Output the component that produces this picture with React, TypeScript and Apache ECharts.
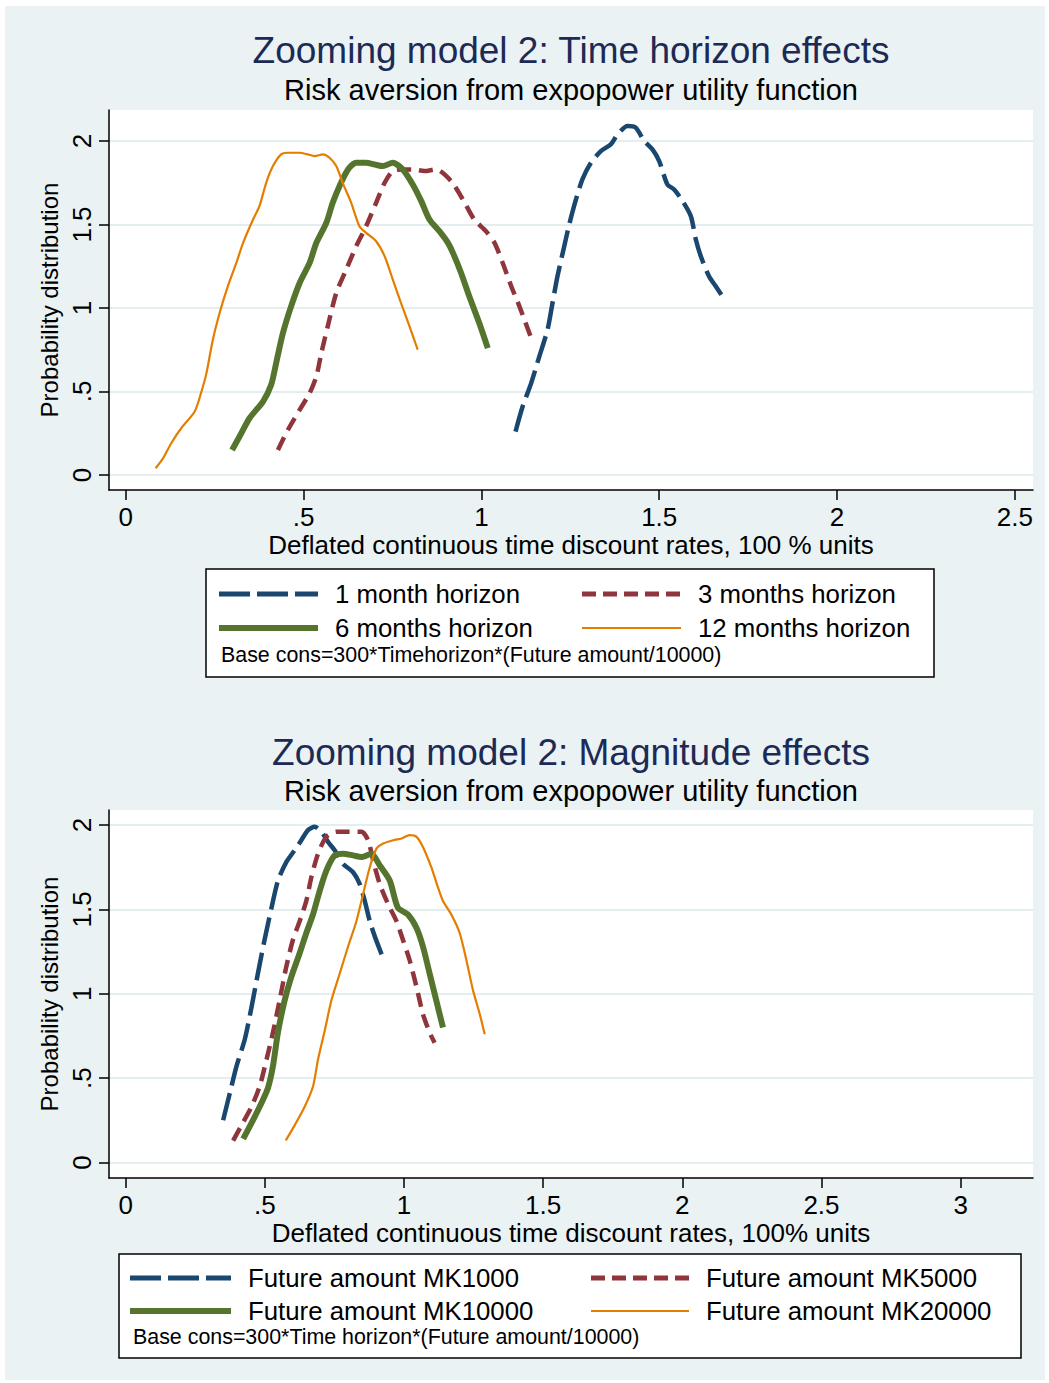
import React, { useEffect, useRef } from "react";
import * as echarts from "echarts";

const FONT = "'Liberation Sans', Arial, Helvetica, sans-serif";

const topTitle = "Zooming model 2: Time horizon effects";
const bottomTitle = "Zooming model 2: Magnitude effects";
const subTitle = "Risk aversion from expopower utility function";
const yTitle = "Probability distribution";
const topXTitle = "Deflated continuous time discount rates, 100 % units";
const bottomXTitle = "Deflated continuous time discount rates, 100% units";
const topXTicks = [0, 0.5, 1, 1.5, 2, 2.5];
const bottomXTicks = [0, 0.5, 1, 1.5, 2, 2.5, 3];
const yTicks = [0, 0.5, 1, 1.5, 2];
const topNames = ["1 month horizon", "3 months horizon", "6 months horizon", "12 months horizon"];
const bottomNames = ["Future amount MK1000", "Future amount MK5000", "Future amount MK10000", "Future amount MK20000"];
const topNote = "Base cons=300*Timehorizon*(Future amount/10000)";
const bottomNote = "Base cons=300*Time horizon*(Future amount/10000)";

// Top panel: time horizon effects
const m1X = [1.096, 1.116, 1.14, 1.163, 1.186, 1.2, 1.214, 1.233, 1.247, 1.266, 1.284, 1.308, 1.336, 1.364, 1.383, 1.411, 1.434, 1.458, 1.481, 1.5, 1.523, 1.542, 1.566, 1.589, 1.603, 1.617, 1.64, 1.659, 1.678];
const m1Y = [0.26, 0.41, 0.55, 0.71, 0.87, 1.03, 1.19, 1.37, 1.5, 1.65, 1.77, 1.87, 1.94, 1.98, 2.04, 2.09, 2.08, 2.0, 1.95, 1.88, 1.74, 1.71, 1.64, 1.55, 1.41, 1.31, 1.19, 1.13, 1.07];
const m3X = [0.428, 0.456, 0.489, 0.517, 0.536, 0.55, 0.568, 0.592, 0.62, 0.648, 0.676, 0.704, 0.728, 0.751, 0.78, 0.807, 0.84, 0.872, 0.915, 0.948, 0.98, 1.013, 1.037, 1.06, 1.084, 1.107, 1.14];
const m3Y = [0.15, 0.27, 0.39, 0.49, 0.59, 0.73, 0.89, 1.09, 1.23, 1.37, 1.49, 1.63, 1.75, 1.82, 1.83, 1.83, 1.82, 1.83, 1.76, 1.65, 1.53, 1.46, 1.39, 1.27, 1.13, 1.01, 0.82];
const m6X = [0.299, 0.32, 0.348, 0.386, 0.409, 0.423, 0.442, 0.465, 0.489, 0.517, 0.536, 0.564, 0.582, 0.601, 0.625, 0.648, 0.676, 0.699, 0.723, 0.751, 0.779, 0.807, 0.831, 0.854, 0.882, 0.906, 0.92, 0.943, 0.966, 0.994, 1.018];
const m6Y = [0.15, 0.23, 0.34, 0.44, 0.54, 0.67, 0.85, 1.01, 1.15, 1.27, 1.39, 1.51, 1.63, 1.73, 1.83, 1.87, 1.87, 1.86, 1.85, 1.87, 1.83, 1.74, 1.64, 1.53, 1.46, 1.39, 1.33, 1.21, 1.07, 0.91, 0.76];
const m12X = [0.084, 0.105, 0.128, 0.156, 0.194, 0.213, 0.227, 0.245, 0.264, 0.287, 0.311, 0.33, 0.358, 0.376, 0.395, 0.414, 0.437, 0.456, 0.489, 0.512, 0.531, 0.554, 0.573, 0.592, 0.61, 0.634, 0.657, 0.676, 0.704, 0.728, 0.751, 0.774, 0.798, 0.821];
const m12Y = [0.04, 0.1, 0.19, 0.28, 0.38, 0.5, 0.61, 0.81, 0.97, 1.13, 1.27, 1.39, 1.53, 1.61, 1.75, 1.85, 1.92, 1.93, 1.93, 1.92, 1.91, 1.92, 1.9, 1.85, 1.75, 1.63, 1.49, 1.45, 1.4, 1.31, 1.17, 1.03, 0.89, 0.75];

// Bottom panel: magnitude effects
const k1X = [0.35, 0.374, 0.398, 0.428, 0.452, 0.475, 0.499, 0.524, 0.547, 0.577, 0.607, 0.631, 0.655, 0.679, 0.703, 0.727, 0.751, 0.781, 0.817, 0.841, 0.859, 0.877, 0.895, 0.925];
const k1Y = [0.25, 0.41, 0.57, 0.73, 0.92, 1.12, 1.32, 1.51, 1.67, 1.78, 1.85, 1.91, 1.97, 1.99, 1.96, 1.9, 1.85, 1.77, 1.72, 1.65, 1.55, 1.43, 1.34, 1.21];
const k5X = [0.386, 0.416, 0.452, 0.481, 0.506, 0.529, 0.553, 0.577, 0.601, 0.625, 0.649, 0.667, 0.691, 0.721, 0.757, 0.805, 0.847, 0.871, 0.889, 0.913, 0.943, 0.973, 0.996, 1.02, 1.045, 1.068, 1.092, 1.11];
const k5Y = [0.13, 0.22, 0.33, 0.45, 0.61, 0.77, 0.96, 1.16, 1.32, 1.43, 1.55, 1.69, 1.83, 1.93, 1.96, 1.96, 1.96, 1.91, 1.79, 1.65, 1.53, 1.43, 1.32, 1.2, 1.04, 0.88, 0.77, 0.71];
const k10X = [0.422, 0.457, 0.49, 0.511, 0.529, 0.547, 0.571, 0.595, 0.625, 0.649, 0.673, 0.697, 0.721, 0.751, 0.781, 0.817, 0.847, 0.883, 0.913, 0.949, 0.978, 1.014, 1.045, 1.068, 1.092, 1.116, 1.14];
const k10Y = [0.14, 0.25, 0.36, 0.44, 0.57, 0.77, 0.96, 1.1, 1.24, 1.36, 1.47, 1.61, 1.73, 1.82, 1.83, 1.82, 1.81, 1.83, 1.76, 1.67, 1.51, 1.47, 1.39, 1.28, 1.12, 0.96, 0.8];
const k20X = [0.575, 0.607, 0.643, 0.673, 0.691, 0.715, 0.739, 0.769, 0.799, 0.829, 0.853, 0.877, 0.901, 0.925, 0.961, 0.991, 1.02, 1.045, 1.068, 1.098, 1.122, 1.14, 1.17, 1.2, 1.224, 1.248, 1.272, 1.29];
const k20Y = [0.13, 0.22, 0.33, 0.45, 0.61, 0.78, 0.96, 1.12, 1.28, 1.43, 1.59, 1.75, 1.86, 1.89, 1.91, 1.92, 1.94, 1.93, 1.87, 1.75, 1.63, 1.55, 1.47, 1.36, 1.2, 1.02, 0.88, 0.76];

const COLORS = ["#1a476f", "#90353b", "#55752f", "#e37e00"];
const DASHES: any[] = [[28, 8], [14, 8], "solid", "solid"];
const WIDTHS = [4.5, 4.5, 6, 2.2];
const LEG_DASHES: any[] = [[31, 7], [14, 7], null, null];
const LEG_WIDTHS = [5, 5, 6, 2];

const zip = (xs: number[], ys: number[]) => xs.map((x, i) => [x, ys[i]]);

const fmtTick = (v: number) => {
  if (v === 0) return "0";
  const s = String(v);
  return s.startsWith("0.") ? s.slice(1) : s;
};

function makeX(gridIndex: number, min: number, max: number, ticks: number[], title: string) {
  return {
    type: "value",
    gridIndex,
    min,
    max,
    name: title,
    nameLocation: "middle",
    nameGap: 42,
    nameTextStyle: { fontSize: 26, color: "#000", fontFamily: FONT, lineHeight: 26 },
    axisLine: { show: true, onZero: false, lineStyle: { color: "#000", width: 1.5 } },
    axisTick: { show: true, customValues: ticks, length: 10, lineStyle: { color: "#000", width: 1.5 } },
    axisLabel: { customValues: ticks, formatter: fmtTick, fontSize: 26, lineHeight: 26, color: "#000", margin: 14, fontFamily: FONT },
    splitLine: { show: false },
  };
}

function makeY(gridIndex: number, min: number, max: number) {
  return {
    type: "value",
    gridIndex,
    min,
    max,
    name: yTitle,
    nameLocation: "middle",
    nameGap: 48,
    nameTextStyle: { fontSize: 24, color: "#000", fontFamily: FONT },
    axisLine: { show: true, onZero: false, lineStyle: { color: "#000", width: 1.5 } },
    axisTick: { show: true, customValues: yTicks, length: 10, lineStyle: { color: "#000", width: 1.5 } },
    axisLabel: { customValues: yTicks, formatter: fmtTick, rotate: 90, fontSize: 26, color: "#000", margin: 14, fontFamily: FONT },
    splitLine: { show: true, lineStyle: { color: "#e4eef0", width: 2 } },
  };
}

function makeSeries(name: string, data: number[][], idx: number, axisIndex: number) {
  return {
    type: "line",
    name,
    xAxisIndex: axisIndex,
    yAxisIndex: axisIndex,
    data,
    showSymbol: false,
    symbol: "none",
    smooth: 0.25,
    lineStyle: { color: COLORS[idx], width: WIDTHS[idx], type: DASHES[idx], cap: "butt", join: "round" },
    itemStyle: { color: COLORS[idx] },
    silent: true,
  };
}

function legendGraphics(
  box: { x: number; y: number; w: number; h: number },
  rows: number[],
  col1: [number, number, number],
  col2: [number, number, number],
  names: string[],
  note: string,
  noteX: number,
  noteY: number
) {
  const els: any[] = [
    {
      type: "rect",
      shape: { x: box.x, y: box.y, width: box.w, height: box.h },
      style: { fill: "#ffffff", stroke: "#000", lineWidth: 1.5 },
      z: 1,
    },
  ];
  names.forEach((name, i) => {
    const col = i % 2 === 0 ? col1 : col2;
    const y = rows[Math.floor(i / 2)];
    const style: any = { stroke: COLORS[i], lineWidth: LEG_WIDTHS[i] };
    if (LEG_DASHES[i]) style.lineDash = LEG_DASHES[i];
    els.push({ type: "line", shape: { x1: col[0], y1: y, x2: col[1], y2: y }, style, z: 2 });
    els.push({
      type: "text",
      x: col[2],
      y,
      style: { text: name, fill: "#000", font: `25.8px ${FONT}`, textAlign: "left", textVerticalAlign: "middle" },
      z: 2,
    });
  });
  els.push({
    type: "text",
    x: noteX,
    y: noteY,
    style: { text: note, fill: "#000", font: `21.4px ${FONT}`, textAlign: "left", textVerticalAlign: "middle" },
    z: 2,
  });
  return els;
}

export default function App() {
  const ref = useRef<HTMLDivElement>(null);
  useEffect(() => {
    if (!ref.current) return;
    const chart = echarts.init(ref.current, undefined, { renderer: "svg" });
    const titleColor = "#1c2a55";
    const option: any = {
      animation: false,
      backgroundColor: "#ffffff",
      textStyle: { fontFamily: FONT },
      grid: [
        { left: 109, top: 110, width: 924, height: 380, show: true, backgroundColor: "#ffffff", borderWidth: 0, containLabel: false },
        { left: 109, top: 810, width: 924, height: 368, show: true, backgroundColor: "#ffffff", borderWidth: 0, containLabel: false },
      ],
      xAxis: [
        makeX(0, -0.047, 2.551, topXTicks, topXTitle),
        makeX(1, -0.06, 3.26, bottomXTicks, bottomXTitle),
      ],
      yAxis: [makeY(0, -0.09, 2.186), makeY(1, -0.092, 2.089)],
      series: [
        makeSeries(topNames[0], zip(m1X, m1Y), 0, 0),
        makeSeries(topNames[1], zip(m3X, m3Y), 1, 0),
        makeSeries(topNames[2], zip(m6X, m6Y), 2, 0),
        makeSeries(topNames[3], zip(m12X, m12Y), 3, 0),
        makeSeries(bottomNames[0], zip(k1X, k1Y), 0, 1),
        makeSeries(bottomNames[1], zip(k5X, k5Y), 1, 1),
        makeSeries(bottomNames[2], zip(k10X, k10Y), 2, 1),
        makeSeries(bottomNames[3], zip(k20X, k20Y), 3, 1),
      ],
      graphic: {
        elements: [
          {
            type: "rect",
            shape: { x: 5, y: 6, width: 1040, height: 1374 },
            style: { fill: "#eaf2f3" },
            z: -100,
            silent: true,
          },
          {
            type: "text",
            x: 571,
            y: 50,
            style: { text: topTitle, fill: titleColor, font: `37px ${FONT}`, textAlign: "center", textVerticalAlign: "middle" },
          },
          {
            type: "text",
            x: 571,
            y: 90,
            style: { text: subTitle, fill: "#000", font: `29px ${FONT}`, textAlign: "center", textVerticalAlign: "middle" },
          },
          {
            type: "text",
            x: 571,
            y: 752,
            style: { text: bottomTitle, fill: titleColor, font: `37px ${FONT}`, textAlign: "center", textVerticalAlign: "middle" },
          },
          {
            type: "text",
            x: 571,
            y: 791,
            style: { text: subTitle, fill: "#000", font: `29px ${FONT}`, textAlign: "center", textVerticalAlign: "middle" },
          },
          ...legendGraphics({ x: 206, y: 569, w: 728, h: 108 }, [594, 628], [219, 318, 335], [582, 681, 698], topNames, topNote, 221, 655),
          ...legendGraphics({ x: 119, y: 1254, w: 902, h: 104 }, [1278, 1311], [130, 231, 248], [591, 689, 706], bottomNames, bottomNote, 133, 1337),
        ],
      },
    };
    chart.setOption(option);
    return () => chart.dispose();
  }, []);
  return <div ref={ref} style={{ position: "absolute", left: 0, top: 0, width: 1049, height: 1383 }} />;
}
